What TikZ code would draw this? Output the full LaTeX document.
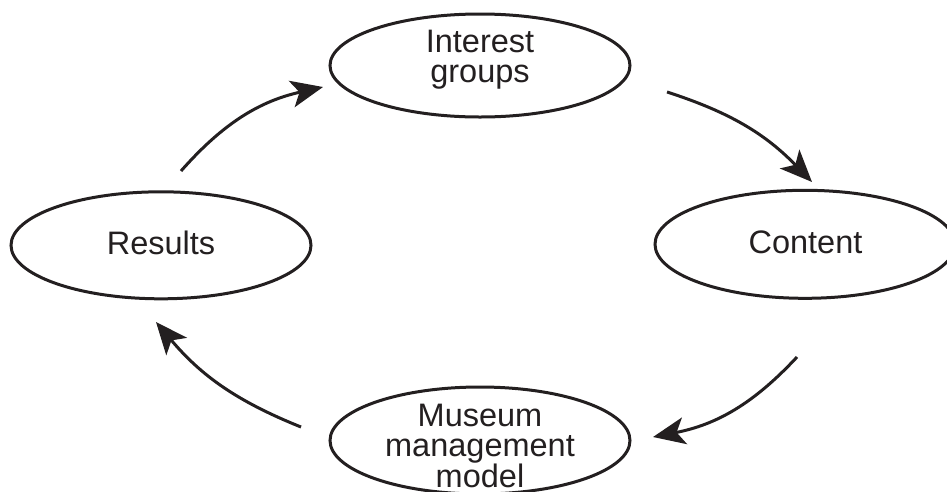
\documentclass[tikz,border=0pt]{standalone}
\usepackage{fontspec}
\setmainfont{Liberation Sans}
\usetikzlibrary{shapes.geometric,arrows.meta}
\definecolor{ink}{HTML}{231F20}
\begin{document}
\begin{tikzpicture}[x=1pt,y=-1pt,
  oval/.style={draw=ink, ellipse, line width=3pt, minimum width=300pt, inner sep=0pt},
  lbl/.style={align=center, text=ink, font=\fontsize{32.5}{30}\selectfont, inner sep=0pt},
  flow/.style={draw=ink, line width=3pt, -{Stealth[length=32pt,width=27pt,inset=8pt]}}]
\useasboundingbox (0,0) rectangle (947,491);

% the four stages of the cycle
\node[oval, minimum height=103pt] (ig) at (480,65.5) {};
\node[oval, minimum height=107pt] (res) at (161,245.3) {};
\node[oval, minimum height=108pt] (con) at (805,244.3) {};
\node[oval, minimum height=107pt] (mus) at (480,440.5) {};

\node[lbl] (igt) at (480,60) {Interest\\groups};
\node[lbl] (rest) at (161,242.5) {Results};
\node[lbl] (cont) at (805.5,242) {Content};
\node[lbl] (must) at (480,446) {Museum\\management\\model};

% end points of the curved arrows
\coordinate (a1) at (181,171);
\coordinate (b1) at (323,87);
\coordinate (a2) at (667,92);
\coordinate (b2) at (812,182);
\coordinate (a3) at (797,357);
\coordinate (b3) at (653,437);
\coordinate (a4) at (301,427);
\coordinate (b4) at (156,322);

\draw[flow] (a1) to[bend left=18] (b1);
\draw[flow] (a2) to[bend left=14] (b2);
\draw[flow] (a3) to[bend left=18] (b3);
\draw[flow] (a4) to[bend left=14] (b4);
\end{tikzpicture}
\end{document}
